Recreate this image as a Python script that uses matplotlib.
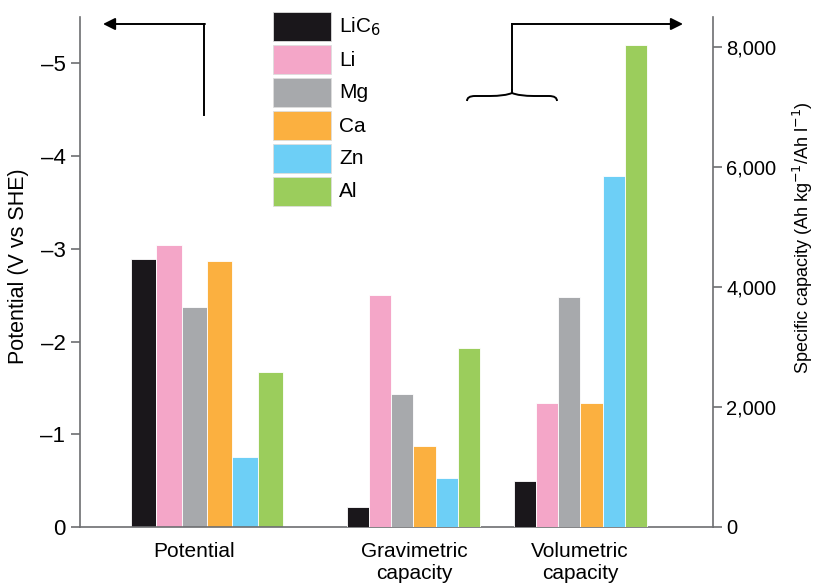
import matplotlib.pyplot as plt
from matplotlib.patches import PathPatch, Rectangle
from matplotlib.path import Path
from matplotlib.ticker import FuncFormatter

plt.rcParams['font.family'] = ['Liberation Sans', 'DejaVu Sans']

# data
materials = ['LiC$_6$', 'Li', 'Mg', 'Ca', 'Zn', 'Al']
colors = ['#1a171b', '#f4a6c8', '#a7a9ac', '#fbb040', '#6dcff6', '#9bcd5c']
potential = [-2.89, -3.04, -2.37, -2.87, -0.76, -1.67]        # V vs SHE
gravimetric = [340, 3861, 2210, 1345, 820, 2980]              # Ah/kg
volumetric = [770, 2065, 3833, 2070, 5851, 8040]              # Ah/l
group_labels = ['Potential', 'Gravimetric\ncapacity', 'Volumetric\ncapacity']
pot_ticks = [0, -1, -2, -3, -4, -5]
cap_ticks = [0, 2000, 4000, 6000, 8000]

W, H = 820, 585
fig = plt.figure(figsize=(W / 100, H / 100), dpi=100)

def px(x, y):
    # reference pixel (from top-left) -> figure fraction
    return (x / W, 1 - y / H)

# axes placed in pixel units of the reference
L, R, B, T = 80, 713, 527, 17
ax = fig.add_axes([L / W, (H - B) / H, (R - L) / W, (B - T) / H])
ax2 = ax.twinx()

# x positions in pixel-like data units
centers = [207, 413.5, 580.5]
widths = [25.3, 22.2, 22.2]
label_x = [194, 414, 580]

def xs(c, w):
    return [c + (i - 2.5) * w for i in range(len(materials))]

ax.bar(xs(centers[0], widths[0]), potential, width=widths[0],
       color=colors, edgecolor='white', linewidth=0.6)
ax2.bar(xs(centers[1], widths[1]), gravimetric, width=widths[1],
        color=colors, edgecolor='white', linewidth=0.6)
ax2.bar(xs(centers[2], widths[2]), volumetric, width=widths[2],
        color=colors, edgecolor='white', linewidth=0.6)

ax.set_xlim(L, R)
ax.set_ylim(0, -5.5)
ax2.set_ylim(0, 8500)

spine_col = '#6d6e71'
for a in (ax, ax2):
    a.spines['top'].set_visible(False)
    for s in a.spines.values():
        s.set_color(spine_col)
        s.set_linewidth(1.2)
ax2.spines['left'].set_visible(False)
ax2.spines['bottom'].set_visible(False)
ax.spines['right'].set_visible(False)

ax.set_yticks(pot_ticks)
ax.set_yticklabels(['0' if v == 0 else '\u2013' + str(abs(v)) for v in pot_ticks])
ax.tick_params(axis='y', length=6.5, width=1.2, color=spine_col, labelsize=16, pad=4)
ax2.set_yticks(cap_ticks)
ax2.yaxis.set_major_formatter(FuncFormatter(lambda v, p: f'{int(v):,}'))
ax2.tick_params(axis='y', length=6.5, width=1.2, color=spine_col, labelsize=14.5, pad=3)

ax.set_xticks(label_x)
ax.set_xticklabels(group_labels, fontsize=15, linespacing=1.2)
ax.tick_params(axis='x', length=0, pad=11)

fig.text(*px(19, 266), 'Potential (V vs SHE)', rotation=90, ha='center', va='center',
         fontsize=15.5)
fig.text(*px(803, 238), 'Specific capacity (Ah kg$^{-1}$/Ah l$^{-1}$)', rotation=90,
         ha='center', va='center', fontsize=13)

# legend, drawn as swatches
for i, (m, c) in enumerate(zip(materials, colors)):
    top = 12 + 33 * i
    fig.add_artist(Rectangle(px(273, top + 29), 58 / W, 29 / H, transform=fig.transFigure,
                             facecolor=c, edgecolor='#dddddd', lw=0.6))
    fig.text(*px(339, top + 15), m, ha='left', va='center', fontsize=15)

# arrows and brace
ax.annotate('', xy=px(103, 24), xytext=px(205, 24), xycoords='figure fraction',
            arrowprops=dict(arrowstyle='-|>', color='black', lw=1.4,
                            mutation_scale=18, shrinkA=0, shrinkB=0))
fig.add_artist(plt.Line2D(*zip(px(204.5, 115), px(204.5, 24)), transform=fig.transFigure,
                          color='black', lw=1.4))
ax.annotate('', xy=px(683, 24), xytext=px(512, 24), xycoords='figure fraction',
            arrowprops=dict(arrowstyle='-|>', color='black', lw=1.4,
                            mutation_scale=18, shrinkA=0, shrinkB=0))
fig.add_artist(plt.Line2D(*zip(px(512, 89), px(512, 24)), transform=fig.transFigure,
                          color='black', lw=1.4))
brace = [px(467, 101), px(467, 96), px(475, 96), px(490, 96),
         px(505, 96), px(512, 93), px(512, 89),
         px(512, 93), px(519, 96), px(534, 96),
         px(549, 96), px(557, 96), px(557, 101)]
codes = [Path.MOVETO, Path.CURVE3, Path.CURVE3, Path.LINETO,
         Path.CURVE3, Path.CURVE3, Path.LINETO,
         Path.MOVETO, Path.CURVE3, Path.CURVE3,
         Path.LINETO, Path.CURVE3, Path.CURVE3]
fig.add_artist(PathPatch(Path(brace, codes), transform=fig.transFigure,
                         facecolor='none', edgecolor='black', lw=1.4))

fig.savefig('out.png', dpi=100)
